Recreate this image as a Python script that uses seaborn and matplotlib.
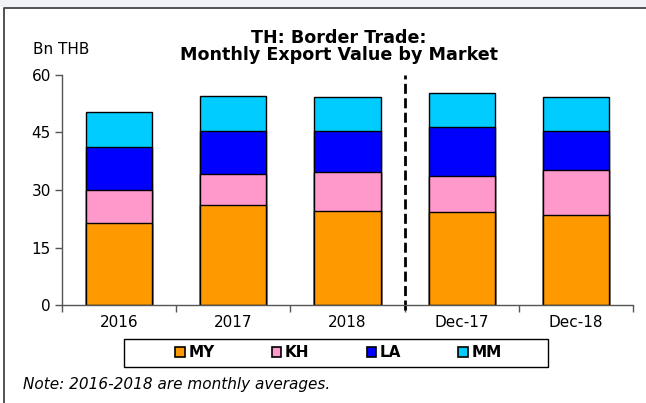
import matplotlib
matplotlib.use("Agg")
from matplotlib import pyplot as plt
from matplotlib.patches import Patch, Rectangle
from matplotlib.lines import Line2D
import numpy as np
import pandas as pd
import seaborn as sns

periods = ["2016", "2017", "2018", "Dec-17", "Dec-18"]
markets = ["MY", "KH", "LA", "MM"]
my_vals = [21.4, 26.1, 24.4, 24.2, 23.4]
kh_vals = [8.5, 8.2, 10.2, 9.5, 11.8]
la_vals = [11.4, 11.2, 10.9, 12.7, 10.3]
mm_vals = [9.1, 9.1, 8.8, 9.0, 8.8]
colors = {"MY": "#FF9900", "KH": "#FF99CC", "LA": "#0000FF", "MM": "#00CCFF"}

df = pd.DataFrame({"period": periods, "MY": my_vals, "KH": kh_vals,
                   "LA": la_vals, "MM": mm_vals})
cum = df[markets].cumsum(axis=1)

sns.set_style("white", {"text.color": "black", "xtick.color": "black",
                        "ytick.color": "black"})
plt.rcParams["font.family"] = ["DejaVu Sans"]

fig = plt.figure(figsize=(6.46, 4.03), dpi=100)
ax = fig.add_axes([0.096, 0.243, 0.884, 0.571])

# draw tallest stack first so the lower segments sit on top
for m in reversed(markets):
    sns.barplot(x=df["period"], y=cum[m], color=colors[m], width=0.58,
                edgecolor="black", linewidth=1, saturation=1, ax=ax)

ax.set_xlim(-0.5, 4.5)
ax.set_ylim(0, 60)
ax.set_yticks([0, 15, 30, 45, 60])
ax.set_xlabel("")
ax.set_ylabel("")
ax.set_xticks(range(5))
ax.set_xticklabels(periods)
ax.set_xticks(np.arange(-0.5, 5, 1), minor=True)
ax.tick_params(axis="x", which="major", length=0, pad=7, labelsize=11,
               labelcolor="black")
ax.tick_params(axis="x", which="minor", length=5, width=1, color="#555555",
               direction="out", bottom=True)
ax.tick_params(axis="y", length=5, width=1, color="#555555", direction="out",
               left=True, labelsize=11, pad=3, labelcolor="black")
for s in ["top", "right"]:
    ax.spines[s].set_visible(False)
for s in ["left", "bottom"]:
    ax.spines[s].set_color("#555555")
    ax.spines[s].set_linewidth(1)

ax.plot([2.5, 2.5], [-1.3, 60], color="black", linestyle=(0, (3.6, 1.6)),
        linewidth=2, clip_on=False)

fig.text(0.525, 0.84, "TH: Border Trade:\nMonthly Export Value by Market",
         ha="center", va="bottom", fontsize=12.6, fontweight="bold",
         linespacing=0.98, color="black")
fig.text(0.051, 0.878, "Bn THB", ha="left", va="center", fontsize=11,
         color="black")

# legend box drawn separately so the entries keep the wide side padding
fig.patches.append(Rectangle((124 / 646, 1 - 367 / 403), 424 / 646, 28 / 403,
                             transform=fig.transFigure, facecolor="white",
                             edgecolor="black", linewidth=1))
handles = [Patch(facecolor=colors[m], edgecolor="black", linewidth=1.2) for m in markets]
leg = fig.legend(handles, markets, loc="center", bbox_to_anchor=(0.524, 0.125),
                 ncol=4, frameon=False, handlelength=0.6, handleheight=0.6,
                 handletextpad=0.25, columnspacing=3.75,
                 prop={"weight": "bold", "size": 11})
for t in leg.get_texts():
    t.set_color("black")

fig.text(0.036, 0.045, "Note: 2016-2018 are monthly averages.", ha="left",
         va="center", fontsize=11, style="italic", color="black")

# outer chart frame (left and top edges) and the light band above it
fig.patches.append(Rectangle((0, 1 - 7 / 403), 1, 7 / 403, transform=fig.transFigure,
                             facecolor="#F1F2F6", edgecolor="none"))
fig.lines.append(Line2D([4 / 646, 4 / 646, 1], [0, 1 - 8 / 403, 1 - 8 / 403],
                        transform=fig.transFigure, color="#444444", linewidth=1.3))

fig.savefig("out.png", dpi=100)
